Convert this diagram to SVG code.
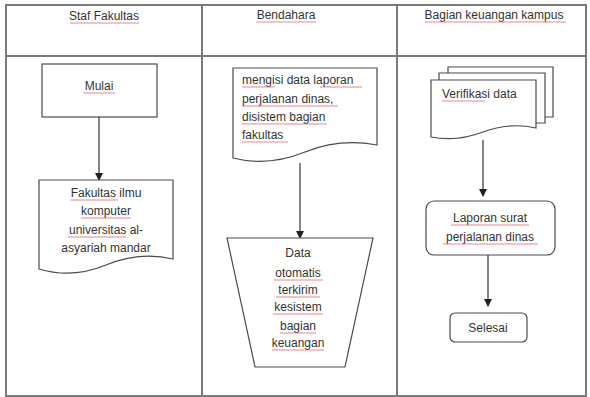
<svg xmlns="http://www.w3.org/2000/svg" width="590" height="397" viewBox="0 0 590 397">
<style>
.frame{fill:none;stroke:#7a7a7a;stroke-width:2}
.shape{fill:#fff;stroke:#4a4a4a;stroke-width:1.2}
.conn{fill:none;stroke:#333;stroke-width:1.2}
text{font-family:"Liberation Sans",Arial,sans-serif;font-size:12px;fill:#333}
.c{text-anchor:middle}
.sq{stroke:#e05060;stroke-width:1;fill:none;opacity:0.7}
</style>
<defs>
<marker id="ah" viewBox="0 0 8 8" refX="7" refY="4" markerWidth="8" markerHeight="8" markerUnits="userSpaceOnUse" orient="auto">
<path d="M0,0 L8,4 L0,8 Z" fill="#222"/>
</marker>
</defs>
<rect width="590" height="397" fill="#fff"/>
<g id="frame">
<rect class="frame" x="6" y="5" width="580" height="391"/>
<line class="frame" x1="6" y1="56" x2="586" y2="56"/>
<line class="frame" x1="202" y1="5" x2="202" y2="396"/>
<line class="frame" x1="397" y1="5" x2="397" y2="396"/>
<text class="c" x="104" y="20">Staf Fakultas</text>
<text class="c" x="286" y="19">Bendahara</text>
<text class="c" x="494" y="19">Bagian keuangan kampus</text>
<line class="sq" x1="70" y1="23" x2="139" y2="23"/>
<line class="sq" x1="256" y1="22" x2="316" y2="22"/>
<line class="sq" x1="425" y1="22" x2="566" y2="22"/>
</g>
<g id="connectors">
<line class="conn" x1="99" y1="117" x2="99" y2="180" marker-end="url(#ah)"/>
<line class="conn" x1="300" y1="163" x2="300" y2="238" marker-end="url(#ah)"/>
<line class="conn" x1="483" y1="140" x2="483" y2="196" marker-end="url(#ah)"/>
<line class="conn" x1="488" y1="255" x2="488" y2="306" marker-end="url(#ah)"/>
</g>
<g id="mulai">
<rect class="shape" x="42" y="64" width="115" height="53"/>
<text class="c" x="99" y="90">Mulai</text>
<line class="sq" x1="83" y1="93" x2="115" y2="93"/>
</g>
<g id="fakultas">
<path class="shape" d="M39,180 H173 V259 Q140,251 106,265 Q72,279 39,269 Z"/>
<text class="c" x="106" y="197">Fakultas ilmu</text>
<text class="c" x="106" y="215">komputer</text>
<text class="c" x="106" y="234">universitas al-</text>
<text class="c" x="106" y="252">asyariah mandar</text>
<line class="sq" x1="70" y1="200" x2="118" y2="200"/>
<line class="sq" x1="81" y1="218" x2="131" y2="218"/>
<line class="sq" x1="68" y1="237" x2="126" y2="237"/>
</g>
<g id="mengisi">
<path class="shape" d="M233,68 H377 V145 Q340,138 305,152 Q268,167 233,158 Z"/>
<text x="242" y="84">mengisi data laporan</text>
<text x="242" y="103">perjalanan dinas,</text>
<text x="242" y="121">disistem bagian</text>
<text x="242" y="139">fakultas</text>
<line class="sq" x1="242" y1="87" x2="275" y2="87"/>
<line class="sq" x1="320" y1="87" x2="362" y2="87"/>
<line class="sq" x1="242" y1="106" x2="338" y2="106"/>
<line class="sq" x1="242" y1="124" x2="327" y2="124"/>
<line class="sq" x1="242" y1="142" x2="288" y2="142"/>
</g>
<g id="data">
<path class="shape" d="M227,238 H373 L345,367 H255 Z"/>
<text class="c" x="298" y="257">Data</text>
<text class="c" x="298" y="277">otomatis</text>
<text class="c" x="298" y="294">terkirim</text>
<text class="c" x="298" y="311">kesistem</text>
<text class="c" x="298" y="330">bagian</text>
<text class="c" x="298" y="347">keuangan</text>
<line class="sq" x1="274" y1="280" x2="323" y2="280"/>
<line class="sq" x1="276" y1="297" x2="320" y2="297"/>
<line class="sq" x1="273" y1="314" x2="323" y2="314"/>
<line class="sq" x1="280" y1="333" x2="316" y2="333"/>
<line class="sq" x1="272" y1="350" x2="324" y2="350"/>
</g>
<g id="verifikasi">
<path class="shape" d="M448,74 V67 H553 V117 H545"/>
<path class="shape" d="M439,80 V73 H545 V123 H536"/>
<path class="shape" d="M431,80 H536 V128 Q510,122 483,132 Q457,142 431,137 Z"/>
<text x="442" y="98">Verifikasi data</text>
<line class="sq" x1="442" y1="101" x2="485" y2="101"/>
</g>
<g id="laporan">
<rect class="shape" x="426" y="201" width="129" height="54" rx="8"/>
<text class="c" x="490" y="222">Laporan surat</text>
<text class="c" x="490" y="241">perjalanan dinas</text>
<line class="sq" x1="451" y1="225" x2="529" y2="225"/>
<line class="sq" x1="443" y1="244" x2="538" y2="244"/>
</g>
<g id="selesai">
<rect class="shape" x="450" y="313" width="77" height="29" rx="5"/>
<text class="c" x="488" y="332">Selesai</text>
</g>
</svg>
